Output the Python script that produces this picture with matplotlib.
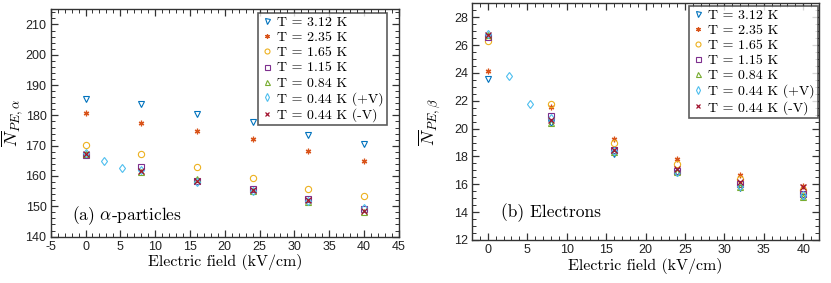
import matplotlib.pyplot as plt
from matplotlib.ticker import MultipleLocator

plt.rcParams['mathtext.fontset'] = 'cm'
plt.rcParams['axes.unicode_minus'] = False

labels = ['T = 3.12 K', 'T = 2.35 K', 'T = 1.65 K', 'T = 1.15 K',
          'T = 0.84 K', 'T = 0.44 K (+V)', 'T = 0.44 K (-V)']
colors = ['#0072BD', '#D95319', '#EDB120', '#7E2F8E', '#77AC30', '#4DBEEE', '#A2142F']
markers = ['v', (6, 2, 0), 'o', 's', '^', 'd', 'x']
fill = [False, True, False, False, False, False, True]

field = [0, 8, 16, 24, 32, 40]
field_pv = [0, 2.7, 5.3, 8, 16, 24, 32, 40]

# (a) alpha-particles
alpha = [
    [185.3, 183.9, 180.5, 177.8, 173.6, 170.7],
    [180.9, 177.5, 174.9, 172.1, 168.2, 164.9],
    [170.2, 167.3, 163.1, 159.2, 155.8, 153.4],
    [167.0, 163.0, 158.3, 155.7, 152.3, 149.0],
    [167.3, 161.2, 159.0, 154.9, 151.5, 148.0],
    [167.5, 164.9, 162.6, 162.0, 158.0, 155.2, 151.8, 149.3],
    [167.1, 161.5, 158.5, 155.4, 152.1, 148.5],
]

# (b) electrons
beta = [
    [23.6, 20.4, 18.2, 16.8, 15.7, 15.1],
    [24.15, 21.55, 19.25, 17.85, 16.7, 15.9],
    [26.3, 21.8, 18.95, 17.45, 16.4, 15.6],
    [26.6, 20.9, 18.5, 16.95, 16.0, 15.3],
    [26.7, 20.4, 18.3, 16.9, 15.8, 15.1],
    [26.8, 23.8, 21.75, 20.8, 18.4, 16.85, 15.9, 15.2],
    [26.75, 20.6, 18.45, 17.1, 16.2, 15.8],
]

fig = plt.figure(figsize=(8.31, 2.83), dpi=100)
ax1 = fig.add_axes([0.061, 0.164, 0.419, 0.803])
ax2 = fig.add_axes([0.568, 0.152, 0.4176, 0.836])

serif = 'cmr10'


def draw(ax, data, ylab, title, xlim, ylim, ymaj, ymin, tpos, legpos, labx):
    for i in range(len(labels)):
        x = field_pv if i == 5 else field
        if fill[i]:
            ax.plot(x, data[i], ls='none', marker=markers[i], color=colors[i],
                    ms=4, mew=0.9, label=labels[i])
        else:
            ax.plot(x, data[i], ls='none', marker=markers[i], mfc='none',
                    mec=colors[i], ms=4.5, mew=0.8, label=labels[i])
    ax.set_xlim(*xlim)
    ax.set_ylim(*ylim)
    ax.xaxis.set_major_locator(MultipleLocator(5))
    ax.xaxis.set_minor_locator(MultipleLocator(1))
    ax.yaxis.set_major_locator(MultipleLocator(ymaj))
    ax.yaxis.set_minor_locator(MultipleLocator(ymin))
    ax.tick_params(which='both', direction='in', top=True, right=True,
                   color='#333333', labelsize=9, pad=3)
    ax.tick_params(which='major', length=5, width=0.9)
    ax.tick_params(which='minor', length=3, width=0.7)
    for lab in ax.get_xticklabels() + ax.get_yticklabels():
        lab.set_family('Liberation Sans')
        lab.set_color('#222222')
    for s in ax.spines.values():
        s.set_color('#333333')
        s.set_linewidth(1.0)
    ax.set_xlabel('Electric field (kV/cm)', family=serif, fontsize=11.5, labelpad=1)
    ax.set_ylabel(ylab, fontsize=13)
    ax.yaxis.set_label_coords(labx, 0.5)
    ax.text(tpos[0], tpos[1], title, family=serif, fontsize=12.5,
            transform=ax.transAxes)
    leg = ax.legend(loc='upper right', bbox_to_anchor=legpos,
                    prop={'family': serif, 'size': 10},
                    frameon=True, fancybox=False, borderpad=0.25,
                    labelspacing=0.17, handletextpad=0.3, handlelength=0.8,
                    borderaxespad=0.0, markerscale=0.8)
    leg.get_frame().set_edgecolor('#333333')
    leg.get_frame().set_linewidth(1.2)


draw(ax1, alpha, r'$\overline{N}_{PE,\alpha}$', r'(a) $\alpha$-particles',
     (-5, 45), (140, 215), 10, 2, (0.061, 0.073), (0.966, 0.984), -0.075)
draw(ax2, beta, r'$\overline{N}_{PE,\beta}$', '(b) Electrons',
     (-2, 42), (12, 29), 2, 0.5, (0.084, 0.097), (0.997, 0.99), -0.08)

fig.savefig('out.png', dpi=100)
